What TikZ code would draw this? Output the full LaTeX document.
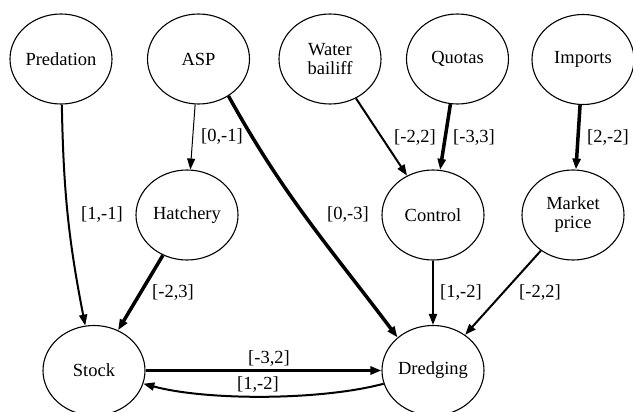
\documentclass[tikz,border=0pt]{standalone}
\usepackage{fontspec}
\setmainfont{Liberation Serif}
\usetikzlibrary{arrows.meta,shapes.geometric}
\begin{document}
\begin{tikzpicture}[x=1pt,y=-1pt,
  var/.style={ellipse,draw,line width=1.1pt,minimum width=102pt,minimum height=90pt,inner sep=0pt,align=center,font=\fontsize{18.5}{19}\selectfont},
  lab/.style={font=\fontsize{18.5}{19}\selectfont,inner sep=0pt},
  arr/.style={-{Triangle[length=11pt,width=8pt]}},
  w1/.style={arr,line width=1pt},
  w2/.style={arr,line width=2pt},
  w3/.style={arr,line width=3.5pt}]
\useasboundingbox (0,0) rectangle (633,412);
\node[var] (pred) at (61,59) {Predation};
\node[var] (asp) at (198.5,59) {ASP};
\node[var] (water) at (330,59) {Water\\bailiff};
\node[var] (quot) at (457.5,59) {Quotas};
\node[var] (imp) at (583,59.5) {Imports};
\node[var] (hatch) at (187,215) {Hatchery};
\node[var] (ctrl) at (433,215) {Control};
\node[var] (mkt) at (573,215) {Market\\price};
\node[var] (stock) at (94,370.5) {Stock};
\node[var] (dred) at (433,370.5) {Dredging};

\draw[w2] (pred) to[bend right=5] (stock);
\draw[w1] (asp) -- (hatch);
\draw[w3] (asp.-51) to[out=-61,in=127] (dred.137);
\draw[w3] (hatch) -- (stock);
\draw[w2] (water) -- (ctrl);
\draw[w3] (quot) -- (ctrl);
\draw[w3] (imp) -- (mkt);
\draw[w2] (ctrl) -- (dred);
\draw[w2] (mkt) -- (dred);
\draw[w3] (stock) -- (dred);
\draw[w2] (dred) to[out=195,in=-15,looseness=0.7] (stock);

\node[lab] (l1) at (102,215) {[1,-1]};
\node[lab] (l2) at (222,137) {[0,-1]};
\node[lab] (l3) at (348,215) {[0,-3]};
\node[lab] (l4) at (173,293) {[-2,3]};
\node[lab] (l5) at (415,138) {[-2,2]};
\node[lab] (l6) at (474,138) {[-3,3]};
\node[lab] (l7) at (608,138) {[2,-2]};
\node[lab] (l8) at (461,293) {[1,-2]};
\node[lab] (l9) at (540,293) {[-2,2]};
\node[lab] (l10) at (269,359) {[-3,2]};
\node[lab] (l11) at (258,385) {[1,-2]};
\end{tikzpicture}
\end{document}
